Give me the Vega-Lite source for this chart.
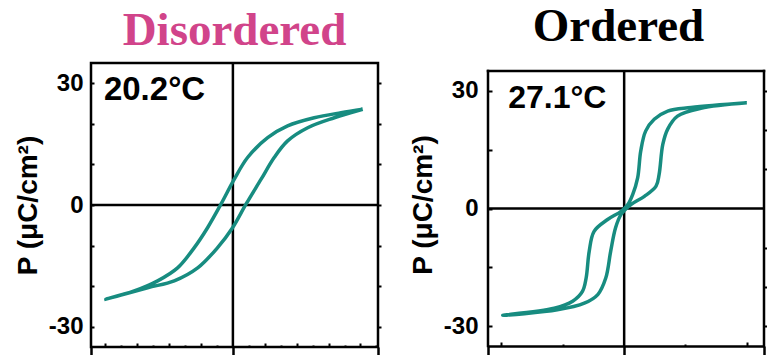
{
  "$schema": "https://vega.github.io/schema/vega-lite/v6.json",
  "autosize": {"type": "pad"},
  "padding": {"left": 13, "top": 3, "right": 0, "bottom": 0},
  "background": "white",
  "bounds": "flush",
  "spacing": 110,
  "config": {
    "axis": {"grid": false, "domain": false, "tickColor": "black", "tickWidth": 2, "labelFont": "Liberation Sans", "labelFontWeight": "bold", "labelFontSize": 24, "labelColor": "black", "titleFont": "Liberation Sans", "titleFontWeight": "bold", "titleFontSize": 28, "titleColor": "black"},
    "view": {"stroke": null}
  },
  "datasets": {
    "disordered": [
      {"i": 0, "E": 8.14, "P": 23.6},
      {"i": 1, "E": 6.78, "P": 22.75},
      {"i": 2, "E": 5.1, "P": 21.5},
      {"i": 3, "E": 3.43, "P": 19.5},
      {"i": 4, "E": 2.18, "P": 16.6},
      {"i": 5, "E": 0.92, "P": 11.7},
      {"i": 6, "E": 0.08, "P": 6.3},
      {"i": 7, "E": -0.75, "P": 0.2},
      {"i": 8, "E": -1.59, "P": -5.6},
      {"i": 9, "E": -2.42, "P": -10.5},
      {"i": 10, "E": -3.47, "P": -15.5},
      {"i": 11, "E": -4.72, "P": -18.7},
      {"i": 12, "E": -6.19, "P": -21.2},
      {"i": 13, "E": -7.97, "P": -23.2},
      {"i": 14, "E": -5.35, "P": -20.4},
      {"i": 15, "E": -3.68, "P": -18.7},
      {"i": 16, "E": -2.21, "P": -15.5},
      {"i": 17, "E": -0.96, "P": -10.5},
      {"i": 18, "E": -0.02, "P": -5.6},
      {"i": 19, "E": 0.82, "P": 0.2},
      {"i": 20, "E": 1.76, "P": 6.3},
      {"i": 21, "E": 2.59, "P": 11.7},
      {"i": 22, "E": 3.43, "P": 15.8},
      {"i": 23, "E": 4.69, "P": 19.05},
      {"i": 24, "E": 6.36, "P": 21.5},
      {"i": 25, "E": 8.14, "P": 23.6}
    ],
    "ordered": [
      {"i": 0, "E": 2.0, "P": 26.9},
      {"i": 1, "E": 1.09, "P": 25.7},
      {"i": 2, "E": 0.71, "P": 24.8},
      {"i": 3, "E": 0.49, "P": 22.7},
      {"i": 4, "E": 0.35, "P": 19.7},
      {"i": 5, "E": 0.27, "P": 14.6},
      {"i": 6, "E": 0.22, "P": 7.8},
      {"i": 7, "E": 0.14, "P": 3.6},
      {"i": 8, "E": 0.06, "P": 1.0},
      {"i": 9, "E": -0.05, "P": -0.7},
      {"i": 10, "E": -0.27, "P": -2.8},
      {"i": 11, "E": -0.49, "P": -5.8},
      {"i": 12, "E": -0.57, "P": -10.9},
      {"i": 13, "E": -0.62, "P": -17.7},
      {"i": 14, "E": -0.68, "P": -21.1},
      {"i": 15, "E": -0.84, "P": -23.6},
      {"i": 16, "E": -1.14, "P": -25.4},
      {"i": 17, "E": -1.98, "P": -27.2},
      {"i": 18, "E": -1.09, "P": -25.8},
      {"i": 19, "E": -0.65, "P": -24.1},
      {"i": 20, "E": -0.43, "P": -21.9},
      {"i": 21, "E": -0.3, "P": -17.7},
      {"i": 22, "E": -0.22, "P": -10.9},
      {"i": 23, "E": -0.14, "P": -4.9},
      {"i": 24, "E": -0.05, "P": -1.5},
      {"i": 25, "E": 0.11, "P": 1.0},
      {"i": 26, "E": 0.33, "P": 3.1},
      {"i": 27, "E": 0.52, "P": 5.7},
      {"i": 28, "E": 0.57, "P": 8.7},
      {"i": 29, "E": 0.63, "P": 16.3},
      {"i": 30, "E": 0.71, "P": 20.2},
      {"i": 31, "E": 0.87, "P": 23.5},
      {"i": 32, "E": 1.25, "P": 25.5},
      {"i": 33, "E": 2.0, "P": 26.9}
    ]
  },
  "hconcat": [
    {
      "width": 287,
      "height": 284,
      "view": {"stroke": "black", "strokeWidth": 2.5},
      "title": {"text": "Disordered", "color": "#d1448a", "font": "Liberation Serif", "fontSize": 47, "fontWeight": "bold", "frame": "group", "anchor": "middle", "baseline": "alphabetic", "offset": -30},
      "resolve": {"axis": {"x": "independent", "y": "independent"}},
      "layer": [
        {
          "data": {"values": [{}]},
          "mark": {"type": "rule", "color": "black", "strokeWidth": 2.5},
          "encoding": {
            "x": {"datum": 0, "type": "quantitative", "scale": {"domain": [-8.9, 9.1], "nice": false, "zero": false}, "axis": {"orient": "bottom", "values": [-8.9, 0, 9.1], "tickSize": 10, "tickWidth": 2.5, "labels": false, "title": null}}
          }
        },
        {
          "data": {"values": [{}]},
          "mark": {"type": "rule", "color": "black", "strokeWidth": 2.5},
          "encoding": {
            "y": {"datum": 0, "type": "quantitative", "scale": {"domain": [-35, 35], "nice": false, "zero": false}, "axis": {"orient": "right", "values": [-30, -20, -10, 0, 10, 20, 30], "tickSize": 3, "labels": false, "title": null}}
          }
        },
        {
          "data": {"name": "disordered"},
          "mark": {"type": "line", "color": "#178c80", "strokeWidth": 3.5, "interpolate": "catmull-rom"},
          "encoding": {
            "x": {"field": "E", "type": "quantitative", "scale": {"domain": [-8.9, 9.1], "nice": false, "zero": false}, "axis": {"orient": "bottom", "values": [-8, -6, -4, -2, 2, 4, 6, 8], "tickSize": -4, "labels": false, "title": null}},
            "y": {"field": "P", "type": "quantitative", "scale": {"domain": [-35, 35], "nice": false, "zero": false}, "axis": {"orient": "left", "values": [-30, -20, -10, 0, 10, 20, 30], "tickSize": -3, "labelPadding": 11, "labelExpr": "datum.value == 30 ? '30' : datum.value == 0 ? '0' : datum.value == -30 ? '-30' : ''", "title": "P (μC/cm²)", "titlePadding": 6}},
            "order": {"field": "i", "type": "quantitative"}
          }
        },
        {
          "data": {"values": [{"label": "20.2°C"}]},
          "mark": {"type": "text", "align": "left", "baseline": "alphabetic", "font": "Liberation Sans", "fontWeight": "bold", "fontSize": 33, "color": "black"},
          "encoding": {
            "x": {"datum": -8.09, "type": "quantitative", "scale": {"domain": [-8.9, 9.1], "nice": false, "zero": false}, "axis": {"orient": "bottom", "values": [-7, -5, -3, -1, 1, 3, 5, 7, 9], "tickSize": -2, "labels": false, "title": null}},
            "y": {"datum": 25.9, "type": "quantitative", "scale": {"domain": [-35, 35], "nice": false, "zero": false}, "axis": null},
            "text": {"field": "label"}
          }
        }
      ]
    },
    {
      "width": 276,
      "height": 283,
      "view": {"stroke": null},
      "title": {"text": "Ordered", "color": "black", "font": "Liberation Serif", "fontSize": 47, "fontWeight": "bold", "frame": "group", "anchor": "middle", "baseline": "alphabetic", "offset": -25, "dx": -7.5},
      "resolve": {"axis": {"x": "independent", "y": "independent"}},
      "layer": [
        {
          "data": {"values": [{}]},
          "mark": {"type": "rule", "color": "black", "strokeWidth": 2.5},
          "encoding": {
            "x": {"datum": 0, "type": "quantitative", "scale": {"domain": [-2.22, 2.28], "nice": false, "zero": false}, "axis": {"orient": "bottom", "values": [-2.22, 0, 2.28], "tickSize": 10, "tickWidth": 2.5, "labels": false, "title": null}},
            "y": {"datum": -35, "type": "quantitative", "scale": {"domain": [-35, 37.04], "nice": false, "zero": false}, "axis": null},
            "y2": {"datum": 35}
          }
        },
        {
          "data": {"values": [{}]},
          "mark": {"type": "rule", "color": "black", "strokeWidth": 2.5},
          "encoding": {
            "y": {"datum": 0, "type": "quantitative", "scale": {"domain": [-35, 37.04], "nice": false, "zero": false}, "axis": {"orient": "right", "values": [-30, -20, -10, 10, 20, 30], "tickSize": 3, "labels": false, "title": null}}
          }
        },
        {
          "data": {"values": [{}]},
          "mark": {"type": "rule", "color": "black", "strokeWidth": 2.5, "strokeCap": "square"},
          "encoding": {
            "x": {"datum": -2.22, "type": "quantitative", "scale": {"domain": [-2.22, 2.28], "nice": false, "zero": false}, "axis": null},
            "y": {"datum": -35, "type": "quantitative", "scale": {"domain": [-35, 37.04], "nice": false, "zero": false}, "axis": null},
            "y2": {"datum": 35}
          }
        },
        {
          "data": {"values": [{}]},
          "mark": {"type": "rule", "color": "black", "strokeWidth": 2.5, "strokeCap": "square"},
          "encoding": {
            "x": {"datum": 2.28, "type": "quantitative", "scale": {"domain": [-2.22, 2.28], "nice": false, "zero": false}, "axis": null},
            "y": {"datum": -35, "type": "quantitative", "scale": {"domain": [-35, 37.04], "nice": false, "zero": false}, "axis": null},
            "y2": {"datum": 35}
          }
        },
        {
          "data": {"values": [{}]},
          "mark": {"type": "rule", "color": "black", "strokeWidth": 2.5, "strokeCap": "square"},
          "encoding": {
            "y": {"datum": 35, "type": "quantitative", "scale": {"domain": [-35, 37.04], "nice": false, "zero": false}, "axis": null},
            "x": {"datum": -2.22, "type": "quantitative", "scale": {"domain": [-2.22, 2.28], "nice": false, "zero": false}, "axis": null},
            "x2": {"datum": 2.28}
          }
        },
        {
          "data": {"name": "ordered"},
          "mark": {"type": "line", "color": "#178c80", "strokeWidth": 3.5, "interpolate": "catmull-rom"},
          "encoding": {
            "x": {"field": "E", "type": "quantitative", "scale": {"domain": [-2.22, 2.28], "nice": false, "zero": false}, "axis": {"orient": "bottom", "domain": true, "domainColor": "black", "domainWidth": 2.5, "values": [-2, 2], "tickSize": -4, "labels": false, "title": null}},
            "y": {"field": "P", "type": "quantitative", "scale": {"domain": [-35, 37.04], "nice": false, "zero": false}, "axis": {"orient": "left", "values": [-30, -15, 0, 15, 30], "tickSize": -4, "labelPadding": 14, "labelExpr": "datum.value == 30 ? '30' : datum.value == 0 ? '0' : datum.value == -30 ? '-30' : ''", "title": "P (μC/cm²)", "titlePadding": 6}},
            "order": {"field": "i", "type": "quantitative"}
          }
        },
        {
          "data": {"values": [{"label": "27.1°C"}]},
          "mark": {"type": "text", "align": "left", "baseline": "alphabetic", "font": "Liberation Sans", "fontWeight": "bold", "fontSize": 32, "color": "black"},
          "encoding": {
            "x": {"datum": -1.89, "type": "quantitative", "scale": {"domain": [-2.22, 2.28], "nice": false, "zero": false}, "axis": {"orient": "bottom", "values": [-1, 1], "tickSize": -2, "labels": false, "title": null}},
            "y": {"datum": 25.65, "type": "quantitative", "scale": {"domain": [-35, 37.04], "nice": false, "zero": false}, "axis": null},
            "text": {"field": "label"}
          }
        }
      ]
    }
  ]
}
